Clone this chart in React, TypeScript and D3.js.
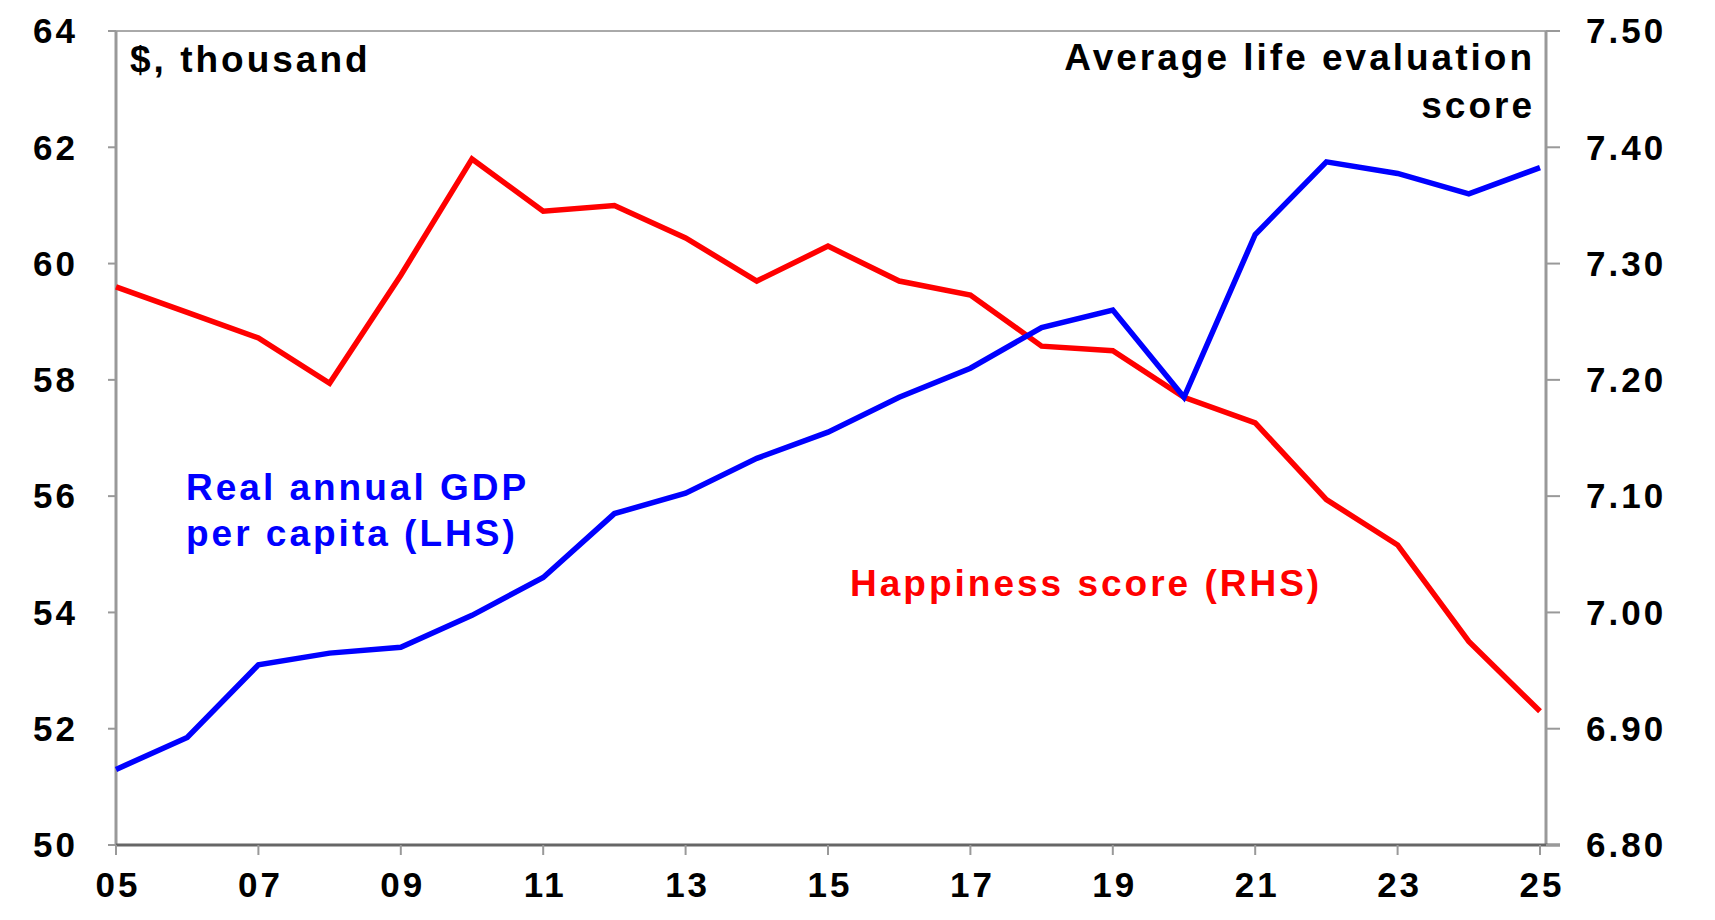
import * as d3 from 'd3';

const years = d3.range(2005, 2026);
const gdp = [51.3, 51.85, 53.1, 53.3, 53.4, 53.95, 54.6, 55.7, 56.05, 56.65, 57.1, 57.7, 58.2, 58.9, 59.2, 57.7, 60.5, 61.75, 61.55, 61.2, 61.65];
const happiness = [7.28, 7.258, 7.236, 7.197, 7.29, 7.39, 7.345, 7.35, 7.322, 7.285, 7.315, 7.285, 7.273, 7.229, 7.225, 7.185, 7.163, 7.097, 7.058, 6.975, 6.915];
const leftTicks = [50, 52, 54, 56, 58, 60, 62, 64];
const rightTicks = [6.8, 6.9, 7.0, 7.1, 7.2, 7.3, 7.4, 7.5];
const xTicks = d3.range(2005, 2026, 2);

export default function App() {
  const W = 1715, H = 920;
  const L = 116, R = 1546, T = 31, B = 845;
  const x = d3.scaleLinear().domain([2005, 2025]).range([L, R - 6]);
  const yL = d3.scaleLinear().domain([50, 64]).range([B, T]);
  const yR = d3.scaleLinear().domain([6.8, 7.5]).range([B, T]);
  const lineL = d3.line<number>().x((_, i) => x(years[i])).y(d => yL(d));
  const lineR = d3.line<number>().x((_, i) => x(years[i])).y(d => yR(d));
  const font = { fontFamily: 'Liberation Sans, Arial, sans-serif', fontWeight: 700 as const, letterSpacing: 3 };
  return (
    <svg width={W} height={H} style={{ display: 'block', margin: -8 }}>
      <rect width={W} height={H} fill="#fff" />
      <line x1={L} x2={R} y1={T} y2={T} stroke="#555" strokeWidth={1} />
      <line x1={L} x2={L} y1={T} y2={B} stroke="#999" strokeWidth={3} />
      <line x1={R} x2={R} y1={T} y2={B} stroke="#999" strokeWidth={3} />
      <line x1={L} x2={R + 14} y1={B} y2={B} stroke="#666" strokeWidth={3} />
      {leftTicks.map(t => (
        <g key={'l' + t}>
          <line x1={L - 8} x2={L} y1={yL(t)} y2={yL(t)} stroke="#999" strokeWidth={2} />
          <text x={L - 38} y={yL(t)} dy="0.35em" textAnchor="end" fontSize={35} {...font}>{t}</text>
        </g>
      ))}
      {rightTicks.map(t => (
        <g key={'r' + t}>
          <line x1={R} x2={R + 14} y1={yR(t)} y2={yR(t)} stroke="#999" strokeWidth={2} />
          <text x={R + 40} y={yR(t)} dy="0.35em" fontSize={35} {...font}>{t.toFixed(2)}</text>
        </g>
      ))}
      {xTicks.map(t => (
        <g key={'x' + t}>
          <line x1={x(t)} x2={x(t)} y1={B} y2={B + 10} stroke="#999" strokeWidth={2} />
          <text x={x(t) + 2} y={B + 52} textAnchor="middle" fontSize={35} {...font}>{String(t % 100).padStart(2, '0')}</text>
        </g>
      ))}
      <path d={lineR(happiness) ?? ''} fill="none" stroke="#ff0000" strokeWidth={5.5} />
      <path d={lineL(gdp) ?? ''} fill="none" stroke="#0000ff" strokeWidth={5.5} />
      <text x={130} y={72} fontSize={37} {...font}>$, thousand</text>
      <text x={1535} y={70} textAnchor="end" fontSize={37} {...font}>Average life evaluation</text>
      <text x={1535} y={118} textAnchor="end" fontSize={37} {...font}>score</text>
      <text x={186} y={500} fontSize={37} fill="#0000ff" {...font}>Real annual GDP</text>
      <text x={186} y={546} fontSize={37} fill="#0000ff" {...font}>per capita (LHS)</text>
      <text x={850} y={596} fontSize={37} fill="#ff0000" {...font}>Happiness score (RHS)</text>
    </svg>
  );
}
